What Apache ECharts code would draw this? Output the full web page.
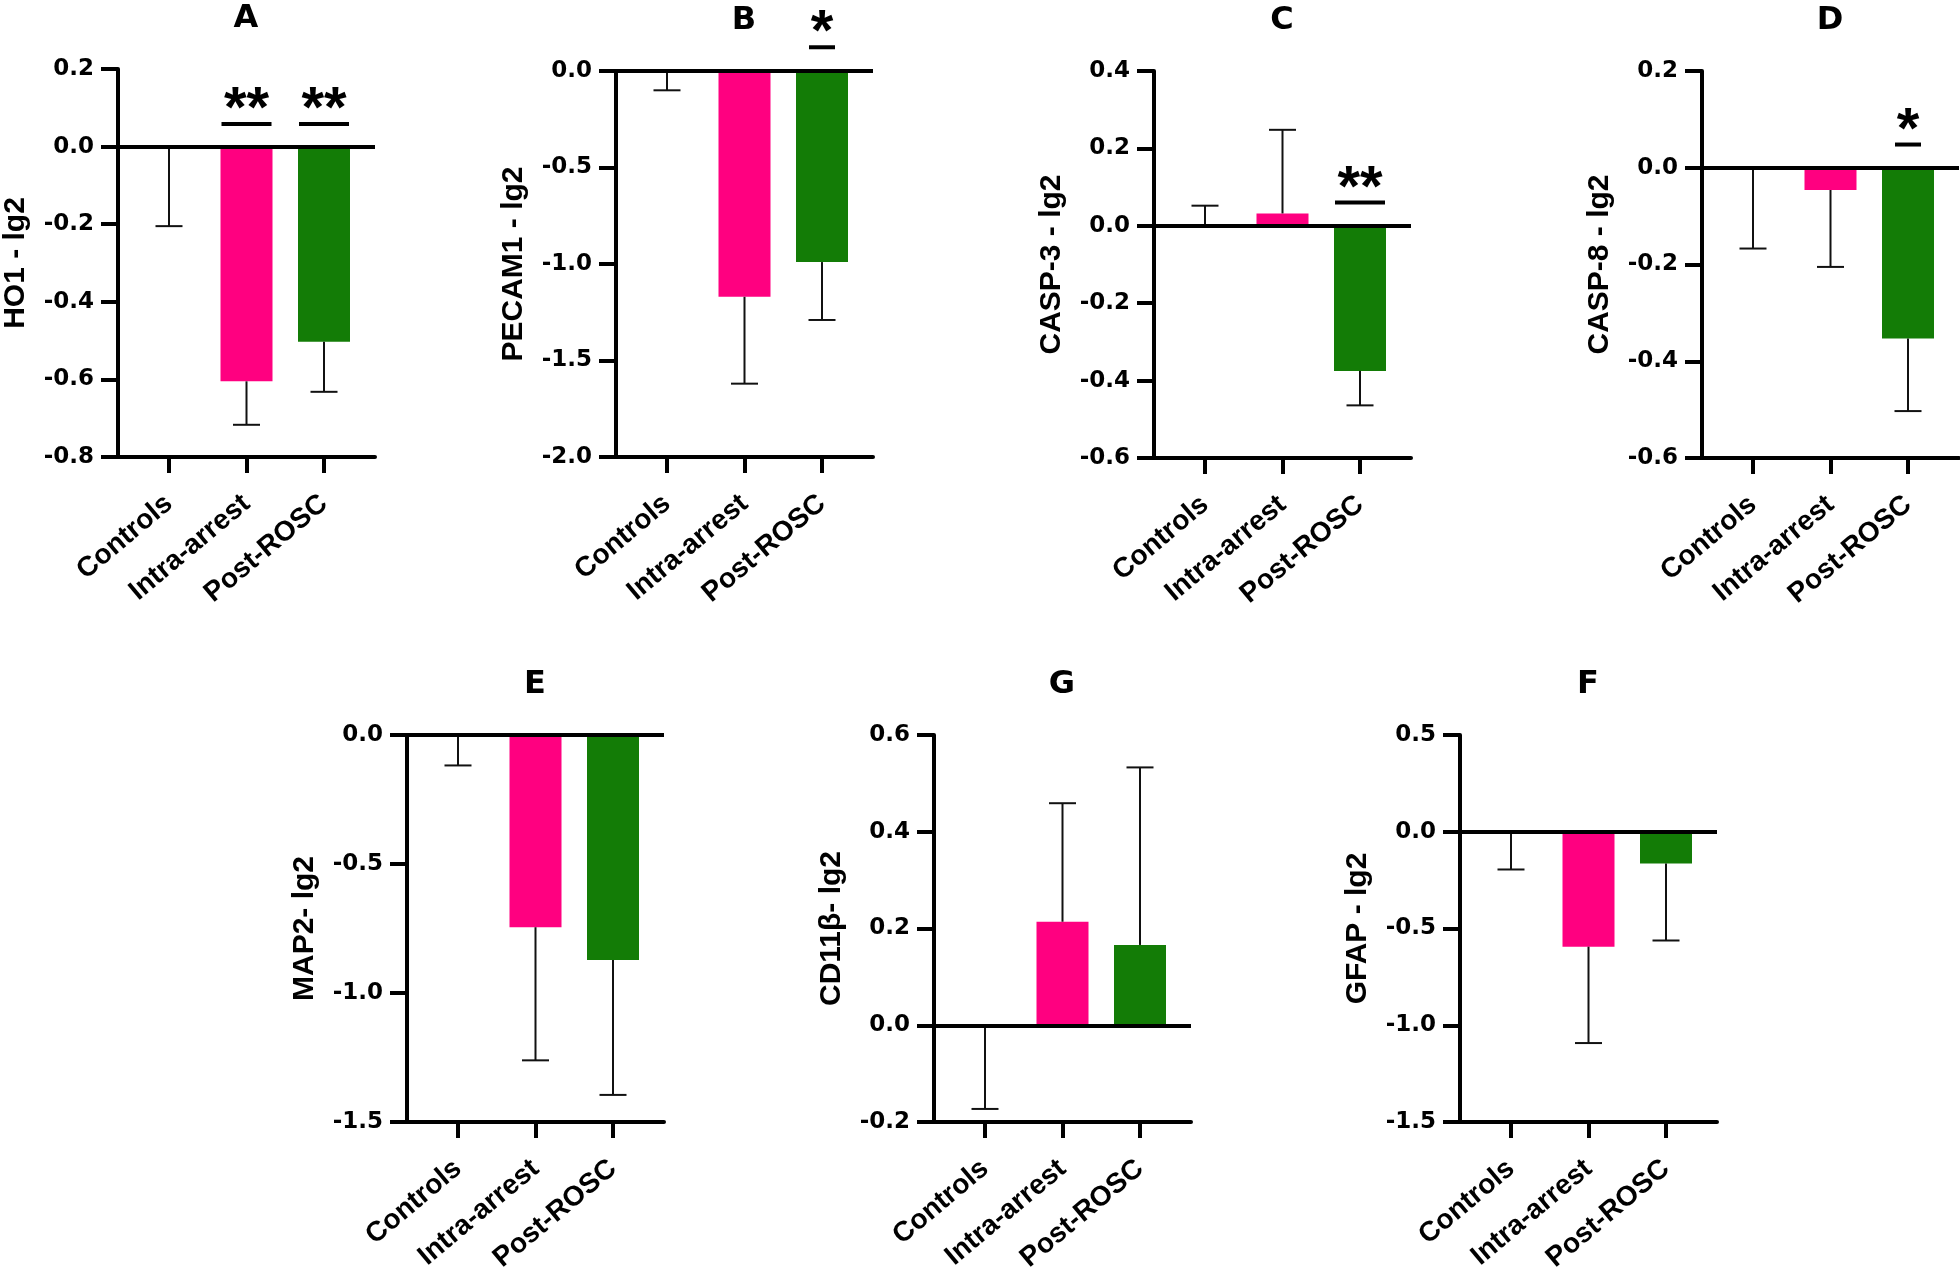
<!DOCTYPE html>
<html>
<head>
<meta charset="utf-8">
<script src="https://cdn.jsdelivr.net/npm/echarts@6/dist/echarts.min.js"></script>
<style>
  html, body { margin: 0; padding: 0; background: #fff; }
  #main { width: 1960px; height: 1277px; }
</style>
</head>
<body>
<div id="main"></div>
<script>
// groups on the x axis
const categories = ['Controls', 'Intra-arrest', 'Post-ROSC'];
const panelLetters = ['A', 'B', 'C', 'D', 'E', 'G', 'F'];
const yNames = ['HO1 - lg2', 'PECAM1 - lg2', 'CASP-3 - lg2', 'CASP-8 - lg2', 'MAP2- lg2', 'CD11β- lg2', 'GFAP - lg2'];

// bar heights (mean, lg2) per panel
const meanA = [0, -0.605, -0.503];
const meanB = [0, -1.17, -0.99];
const meanC = [0, 0.032, -0.375];
const meanD = [0, -0.046, -0.353];
const meanE = [0, -0.745, -0.872];
const meanG = [0, 0.214, 0.166];
const meanF = [0, -0.594, -0.164];

// end of the error bar (mean +/- sd) per panel
const errA = [-0.205, -0.717, -0.632];
const errB = [-0.10, -1.62, -1.29];
const errC = [0.052, 0.248, -0.464];
const errD = [-0.167, -0.205, -0.503];
const errE = [-0.118, -1.261, -1.395];
const errG = [-0.173, 0.459, 0.533];
const errF = [-0.195, -1.092, -0.562];

// y axis ticks: [min, max, step]
const ticksA = [-0.8, 0.2, 0.2];
const ticksB = [-2.0, 0.0, 0.5];
const ticksC = [-0.6, 0.4, 0.2];
const ticksD = [-0.6, 0.2, 0.2];
const ticksE = [-1.5, 0.0, 0.5];
const ticksG = [-0.2, 0.6, 0.2];
const ticksF = [-1.5, 0.5, 0.5];

// significance marks: [group index, y of the bar line, mark]
const sigA = [[1, 0.058, '**'], [2, 0.058, '**']];
const sigB = [[2, 0.123, '*']];
const sigC = [[2, 0.06, '**']];
const sigD = [[2, 0.048, '*']];

const means = [meanA, meanB, meanC, meanD, meanE, meanG, meanF];
const errs = [errA, errB, errC, errD, errE, errG, errF];
const ticks = [ticksA, ticksB, ticksC, ticksD, ticksE, ticksG, ticksF];
const sigs = [sigA, sigB, sigC, sigD, [], [], []];

const barColors = ['rgba(0,0,0,0)', '#FF0080', '#137C06'];
const FONT = 'Liberation Sans, Arial, Helvetica, sans-serif';
const WIDE = 'DejaVu Sans, Verdana, sans-serif';

// plot boxes (px)
const boxes = [
  { left: 118, top: 69, height: 388 },
  { left: 616, top: 71, height: 386 },
  { left: 1154, top: 71, height: 387 },
  { left: 1702, top: 71, height: 387 },
  { left: 407, top: 735, height: 387 },
  { left: 934, top: 735, height: 387 },
  { left: 1460, top: 735, height: 387 }
];
const boxWidth = 257;

function errorItem (params, api) {
  const x = api.value(0);
  const start = api.coord([x, api.value(1)]);
  const end = api.coord([x, api.value(2)]);
  const line = { stroke: '#111', lineWidth: 2 };
  return {
    type: 'group',
    children: [
      { type: 'line', shape: { x1: start[0], y1: start[1], x2: end[0], y2: end[1] }, style: line },
      { type: 'line', shape: { x1: end[0] - 13.5, y1: end[1], x2: end[0] + 13.5, y2: end[1] }, style: line }
    ]
  };
}

function sigItem (list) {
  return (params, api) => {
    const p = api.coord([api.value(0), api.value(1)]);
    const mark = list[params.dataIndex][2];
    const half = mark.length > 1 ? 25 : 13;
    return {
      type: 'group',
      children: [
        { type: 'line', shape: { x1: p[0] - half, y1: p[1], x2: p[0] + half, y2: p[1] },
          style: { stroke: '#000', lineWidth: 4 } },
        { type: 'text', x: p[0], y: p[1] - 13,
          style: { text: mark, fill: '#000', font: 'bold 58px ' + FONT,
            textAlign: 'center', textVerticalAlign: 'middle', align: 'center', verticalAlign: 'middle' } }
      ]
    };
  };
}

const grid = [], xAxis = [], yAxis = [], series = [], title = [];

boxes.forEach((b, i) => {
  grid.push({ left: b.left, top: b.top, width: boxWidth, height: b.height, outerBoundsMode: 'none', containLabel: false });
  title.push({
    text: panelLetters[i], left: b.left + boxWidth / 2 - 0.5, top: b.top - 66, textAlign: 'center', padding: 0,
    textStyle: { fontFamily: WIDE, fontSize: 32, fontWeight: 'bold', color: '#000' }
  });
  xAxis.push({
    gridIndex: i, type: 'value', min: -0.658, max: 2.658,
    splitLine: { show: false },
    axisLine: { show: true, onZero: false, lineStyle: { color: '#000', width: 4 } },
    axisTick: { show: true, customValues: [0, 1, 2], length: 16, lineStyle: { color: '#000', width: 4 } },
    axisLabel: {
      customValues: [0, 1, 2], rotate: 40, margin: 43,
      formatter: v => categories[Math.round(v)],
      fontFamily: FONT, fontSize: 28, fontWeight: 'bold', color: '#000'
    }
  });
  const t = ticks[i];
  yAxis.push({
    gridIndex: i, type: 'value', min: t[0], max: t[1], interval: t[2],
    name: yNames[i], nameLocation: 'middle', nameGap: 87,
    nameTextStyle: { fontFamily: FONT, fontSize: 30, fontWeight: 'bold', color: '#000' },
    splitLine: { show: false },
    axisLine: { show: true, onZero: false, lineStyle: { color: '#000', width: 4 } },
    axisTick: { show: true, length: 17, lineStyle: { color: '#000', width: 4 } },
    axisLabel: {
      margin: 24, formatter: v => v.toFixed(1),
      fontFamily: WIDE, fontSize: 23, fontWeight: 'bold', color: '#000'
    }
  });
  series.push({
    type: 'bar', xAxisIndex: i, yAxisIndex: i, barWidth: 52, z: 2,
    data: means[i].map((v, k) => ({ value: [k, v], itemStyle: { color: barColors[k] } })),
    markLine: {
      silent: true, symbol: ['none', 'none'], z: 6,
      label: { show: false },
      lineStyle: { color: '#000', width: 4, type: 'solid' },
      data: [{ yAxis: 0 }]
    }
  });
  series.push({
    type: 'custom', xAxisIndex: i, yAxisIndex: i, z: 4, clip: false,
    renderItem: errorItem,
    data: means[i].map((v, k) => [k, v, errs[i][k]])
  });
  if (sigs[i].length) {
    series.push({
      type: 'custom', xAxisIndex: i, yAxisIndex: i, z: 7, clip: false,
      renderItem: sigItem(sigs[i]),
      data: sigs[i].map(s => [s[0], s[1]])
    });
  }
});

const chart = echarts.init(document.getElementById('main'));
chart.setOption({
  backgroundColor: '#fff',
  animation: false,
  title, grid, xAxis, yAxis, series
});
</script>
</body>
</html>
